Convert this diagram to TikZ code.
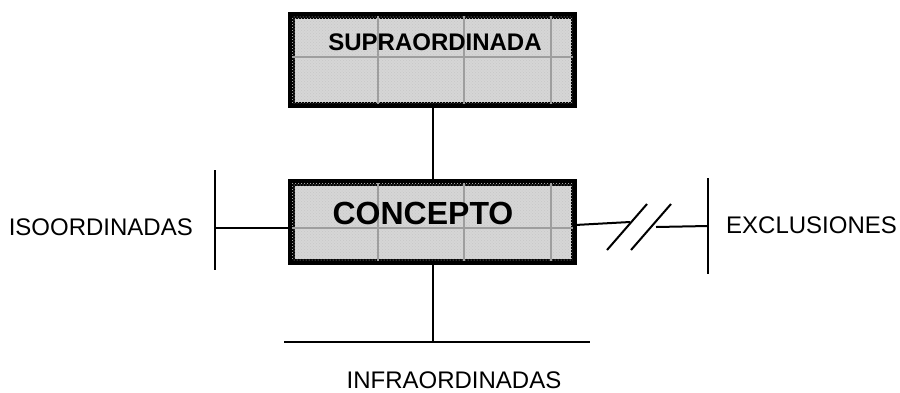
\documentclass[tikz,border=0pt]{standalone}
\usepackage{fontspec}
\setmainfont{Liberation Sans}
\usetikzlibrary{patterns}
\begin{document}
\begin{tikzpicture}[x=1pt,y=-1pt,
  boxstyle/.style={draw=black,line width=4.5pt,fill=gray!32,inner sep=0pt,minimum width=280.5pt},
  gridln/.style={draw=black!38,line width=2pt},
  conn/.style={draw=black,line width=2pt},
  lbl/.style={inner sep=0pt,font=\fontsize{24}{28}\selectfont},
  blbl/.style={inner sep=0pt,font=\fontsize{24}{28}\selectfont\bfseries},
  bigbl/.style={inner sep=0pt,font=\fontsize{32}{36}\selectfont\bfseries}]
\useasboundingbox (0,0) rectangle (900,392);
% boxes
\node[boxstyle,minimum height=87.5pt] (sup) at (432.5,60) {};
\node[boxstyle,minimum height=77.5pt] (con) at (432.5,222) {};
% texture and grid
\foreach \b in {sup,con}{
  \begin{scope}
    \clip (\b.north west) rectangle (\b.south east);
    \fill[pattern=crosshatch dots,pattern color=black!22] (\b.north west) rectangle (\b.south east);
    \foreach \gx in {378,464,551}{
      \draw[gridln] (\gx,0 |- \b.north) -- (\gx,0 |- \b.south);
    }
  \end{scope}
}
\draw[gridln] (sup.west |- 0,57) -- (sup.east |- 0,57);
\draw[gridln] (con.west |- 0,228) -- (con.east |- 0,228);
\draw[line width=4.5pt] (sup.north west) rectangle (sup.south east);
\draw[line width=4.5pt] (con.north west) rectangle (con.south east);
% labels
\node[blbl] (suptext) at (435,42) {SUPRAORDINADA};
\node[bigbl] (context) at (423,213) {CONCEPTO};
\node[lbl,anchor=east] (iso) at (193,227) {ISOORDINADAS};
\node[lbl,anchor=west] (exc) at (726,225) {EXCLUSIONES};
\node[lbl,anchor=north] (inf) at (454,372) {INFRAORDINADAS};
% vertical connectors
\draw[conn] (sup.south) -- (con.north);
\coordinate (bmid) at (con.south |- 0,342);
\draw[conn] (con.south) -- (bmid);
\coordinate (bl) at (284,342);
\coordinate (br) at (590,342);
\draw[conn] (bl) -- (br);
% left
\coordinate (ltop) at (215,170);
\coordinate (lbot) at (215,270);
\coordinate (lmid) at (215,228);
\draw[conn] (ltop) -- (lbot);
\draw[conn] (lmid) -- (lmid -| con.west);
% right
\coordinate (rtop) at (708,178);
\coordinate (rbot) at (708,274);
\coordinate (r1) at (630,222);
\coordinate (r2) at (656,227);
\coordinate (rend) at (708,226);
\coordinate (s1a) at (607,250);
\coordinate (s1b) at (647,204);
\coordinate (s2a) at (631,250);
\coordinate (s2b) at (671,204);
\draw[conn] (rtop) -- (rbot);
\draw[conn] (con.east |- 0,225) -- (r1);
\draw[conn] (r2) -- (rend);
\draw[conn] (s1a) -- (s1b);
\draw[conn] (s2a) -- (s2b);
\end{tikzpicture}
\end{document}
